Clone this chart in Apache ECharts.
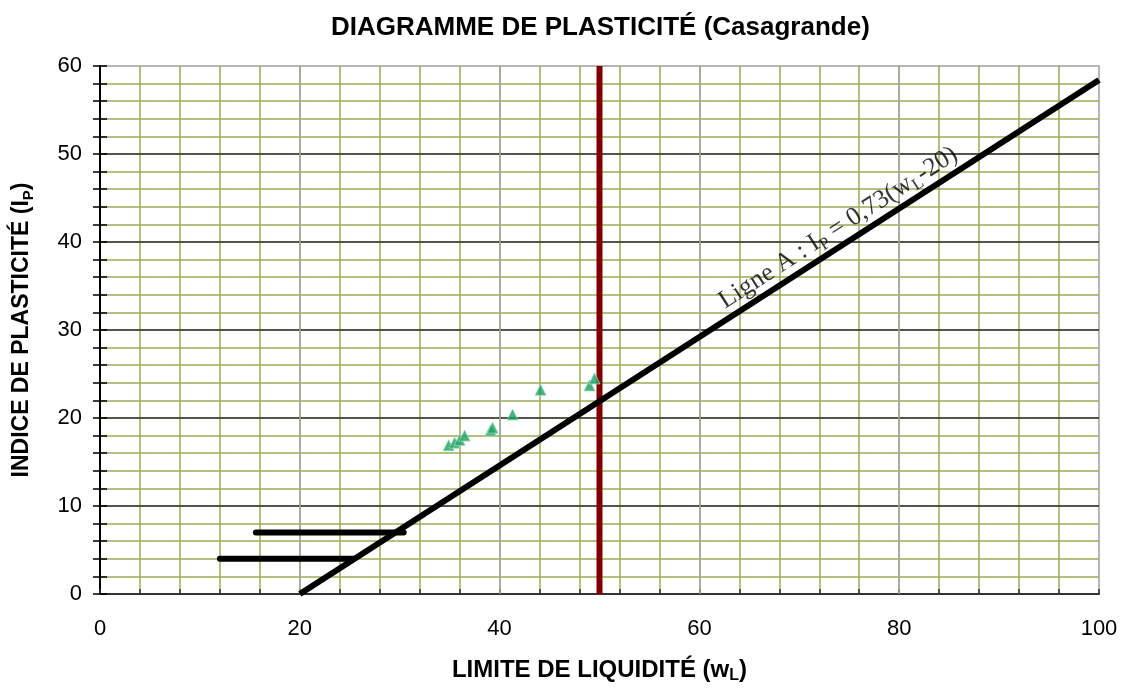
<!DOCTYPE html>
<html>
<head>
<meta charset="utf-8">
<title>Diagramme de plasticité</title>
<script src="https://cdn.jsdelivr.net/npm/echarts@6/dist/echarts.min.js"></script>
<style>
  html, body { margin: 0; padding: 0; background: #fff; }
  #main { width: 1129px; height: 689px; }
</style>
</head>
<body>
<div id="main"></div>
<script>
// échantillons : limite de liquidité wL / indice de plasticité IP
var wL = [34.9, 35.5, 36.0, 36.5, 39.1, 39.3, 41.3, 44.1, 49.0, 49.5];
var IP = [16.9, 17.2, 17.5, 18.0, 18.6, 18.9, 20.4, 23.2, 23.7, 24.5];

// ligne A : IP = 0,73(wL - 20)
var ligneA_w = [20, 100];
var ligneA_ip = [0, 58.4];

// limite wL = 50
var limite_w = [50, 50];
var limite_ip = [0, 60];

// paliers horizontaux (zone CL-ML)
var palier7_w = [15.6, 30.4];
var palier7_ip = [7, 7];
var palier4_w = [12, 25.4];
var palier4_ip = [4, 4];

// position du texte de la ligne A
var texteA = [73.9, 41.6];

var xTicks = [0, 20, 40, 60, 80, 100];
var yTicks = [0, 10, 20, 30, 40, 50, 60];

function paires(xs, ys) {
    var out = [];
    for (var i = 0; i < xs.length; i++) {
        out.push([xs[i], ys[i]]);
    }
    return out;
}

var vert = '#98ad5a';
function nomStyle(t) {
    return {
        a: { fontFamily: 'Liberation Sans', fontWeight: 'bold', fontSize: t, color: '#000', lineHeight: 28 },
        s: { fontFamily: 'Liberation Sans', fontWeight: 'bold', fontSize: Math.round(t * 0.66), color: '#000', verticalAlign: 'bottom', lineHeight: 28 }
    };
}

var myChart = echarts.init(document.getElementById('main'));

option = {
    animation: false,
    backgroundColor: '#fff',
    title: {
        text: 'DIAGRAMME DE PLASTICITÉ (Casagrande)',
        left: 326,
        top: 10,
        textStyle: {
            fontFamily: 'Liberation Sans',
            fontWeight: 'bold',
            fontSize: 26,
            color: '#000'
        }
    },
    grid: {
        left: 100,
        top: 66,
        width: 999,
        height: 529,
        show: true,
        borderColor: '#a0a0a0',
        borderWidth: 1.5,
        backgroundColor: '#fff'
    },
    xAxis: [
        {
            // grille fine tous les 4
            type: 'value',
            min: 0,
            max: 100,
            interval: 4,
            name: '{a|LIMITE DE LIQUIDITÉ (w}{s|L}{a|)}',
            nameLocation: 'middle',
            nameGap: 62,
            nameTextStyle: { rich: nomStyle(24) },
            axisLine: { show: true, onZero: false, lineStyle: { color: '#333', width: 2 } },
            axisTick: { show: true, inside: true, length: 5, lineStyle: { color: '#333', width: 1.5 } },
            axisLabel: {
                margin: 24,
                fontFamily: 'Liberation Sans',
                fontSize: 22,
                color: '#000',
                formatter: function (v) {
                    return xTicks.indexOf(v) >= 0 ? String(v) : '';
                }
            },
            splitLine: {
                show: true,
                showMinLine: false,
                showMaxLine: false,
                lineStyle: { color: vert, width: 1.5 }
            }
        },
        {
            // lignes grises tous les 20
            type: 'value',
            min: 0,
            max: 100,
            interval: 20,
            position: 'bottom',
            z: 1,
            axisLine: { show: false },
            axisTick: { show: false },
            axisLabel: { show: false },
            splitLine: {
                show: true,
                showMinLine: false,
                showMaxLine: false,
                lineStyle: { color: '#a6a6a6', width: 1.5 }
            }
        }
    ],
    yAxis: [
        {
            type: 'value',
            min: 0,
            max: 60,
            interval: 2,
            name: '{a|INDICE DE PLASTICITÉ (I}{s|P}{a|)}',
            nameLocation: 'middle',
            nameGap: 64,
            nameTextStyle: { rich: nomStyle(23) },
            axisLine: { show: true, onZero: false, lineStyle: { color: '#000', width: 2 } },
            axisTick: { show: true, length: 7, lineStyle: { color: '#000', width: 1.5 } },
            axisLabel: {
                margin: 18,
                fontFamily: 'Liberation Sans',
                fontSize: 22,
                color: '#000',
                formatter: function (v) {
                    return yTicks.indexOf(v) >= 0 ? String(v) : '';
                }
            },
            splitLine: {
                show: true,
                showMinLine: false,
                showMaxLine: false,
                lineStyle: { color: vert, width: 1.5 }
            }
        },
        {
            // petits traits intérieurs
            type: 'value',
            min: 0,
            max: 60,
            interval: 2,
            position: 'left',
            z: 1,
            axisLine: { show: false },
            axisTick: { show: true, inside: true, length: 7, lineStyle: { color: '#000', width: 1.5 } },
            axisLabel: { show: false },
            splitLine: { show: false }
        },
        {
            // lignes foncées tous les 10
            type: 'value',
            min: 0,
            max: 60,
            interval: 10,
            position: 'left',
            z: 1,
            axisLine: { show: false },
            axisTick: { show: false },
            axisLabel: { show: false },
            splitLine: {
                show: true,
                showMinLine: false,
                showMaxLine: false,
                lineStyle: { color: '#333', width: 1.5 }
            }
        }
    ],
    series: [
        {
            name: 'Limite wL = 50',
            type: 'line',
            data: paires(limite_w, limite_ip),
            symbol: 'none',
            lineStyle: { color: '#800000', width: 6 },
            z: 3
        },
        {
            name: 'Ligne A',
            type: 'line',
            data: paires(ligneA_w, ligneA_ip),
            symbol: 'none',
            lineStyle: { color: '#000', width: 6 },
            z: 4
        },
        {
            name: 'IP = 7',
            type: 'line',
            data: paires(palier7_w, palier7_ip),
            symbol: 'none',
            lineStyle: { color: '#000', width: 6, cap: 'round' },
            z: 4
        },
        {
            name: 'IP = 4',
            type: 'line',
            data: paires(palier4_w, palier4_ip),
            symbol: 'none',
            lineStyle: { color: '#000', width: 6, cap: 'round' },
            z: 4
        },
        {
            name: 'Échantillons',
            type: 'scatter',
            data: paires(wL, IP),
            symbol: 'triangle',
            symbolSize: 11,
            itemStyle: { color: '#16a060', borderColor: '#9ed8bc', borderWidth: 1 },
            z: 5
        },
        {
            name: 'texte',
            type: 'scatter',
            data: [texteA],
            symbolSize: 0,
            silent: true,
            label: {
                show: true,
                position: 'inside',
                rotate: 32.8,
                formatter: '{a|Ligne A : I}{s|P}{a| = 0,73(w}{s|L}{a|-20)}',
                rich: {
                    a: { fontFamily: 'Liberation Serif', fontSize: 26, color: '#000', lineHeight: 30 },
                    s: { fontFamily: 'Liberation Serif', fontSize: 17, color: '#000', verticalAlign: 'bottom', lineHeight: 30 }
                }
            },
            z: 6
        }
    ]
};

myChart.setOption(option);
</script>
</body>
</html>
